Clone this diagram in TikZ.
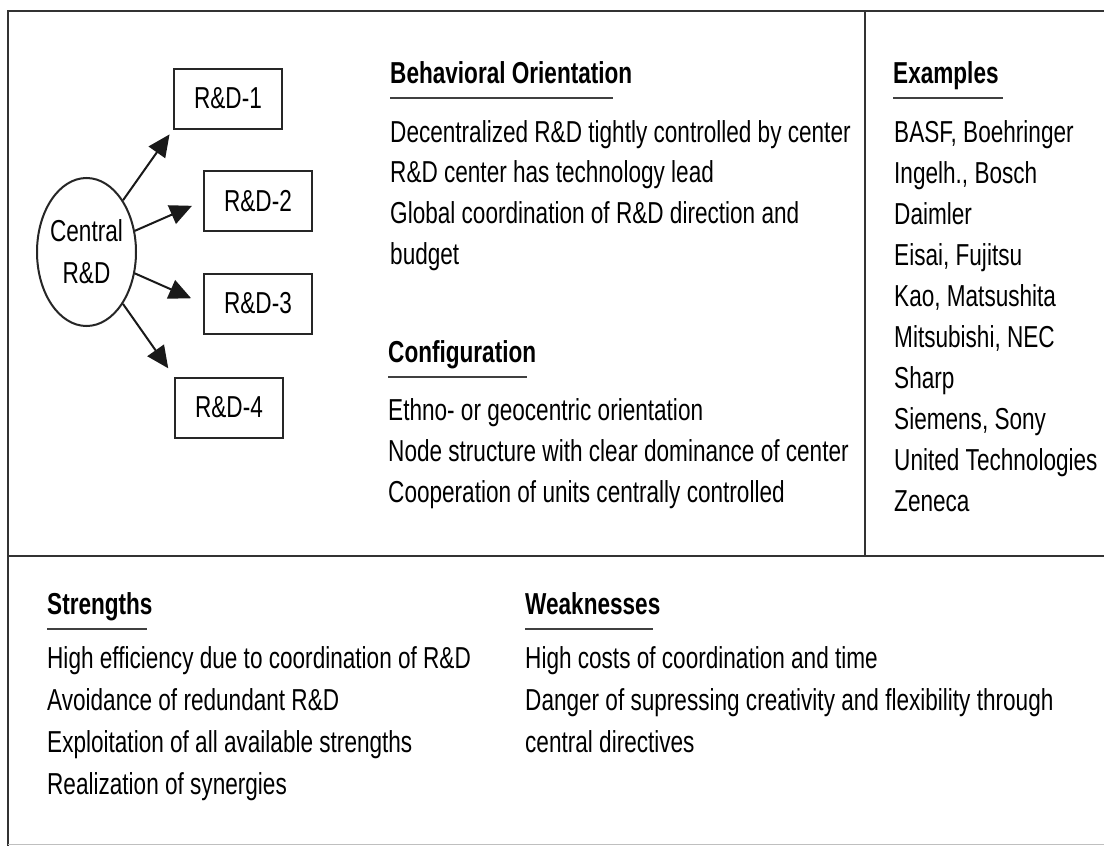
\documentclass[tikz,border=0pt]{standalone}
\usepackage{fontspec}
\setmainfont{Liberation Sans}[FakeStretch=0.745]
\usetikzlibrary{arrows.meta,shapes.geometric}

\begin{document}
\begin{tikzpicture}[x=1pt,y=-1pt,
  txt/.style={anchor=base west, inner sep=0pt, font=\fontsize{30.3}{41}\selectfont},
  head/.style={anchor=base west, inner sep=0pt, font=\fontsize{30.3}{41}\selectfont\bfseries},
  rule/.style={line width=2.4pt, black!75},
  frame/.style={line width=2pt, black!80},
  unit/.style={draw=black!85, line width=2pt, minimum width=108pt, minimum height=60pt,
               inner sep=0pt, font=\fontsize{30.3}{41}\selectfont},
  link/.style={line width=2pt, black!90, -{Triangle[length=22pt,width=20pt]}},
]
\useasboundingbox (0,0) rectangle (1104,846);
\fill[white] (0,0) rectangle (1104,846);

% outer frame and panel dividers
\draw[frame] (8,846) -- (8,11) -- (1104,11);
\draw[frame] (8,556) -- (1104,556);
\draw[frame] (865,11) -- (865,556);
\draw[line width=1pt, black!25] (8,844) -- (1104,844);

% central unit and its satellites
\node[ellipse, draw=black!85, line width=2pt, minimum width=99pt, minimum height=148pt,
      inner xsep=-8pt, inner ysep=0pt, align=center,
      font=\fontsize{30.3}{42}\selectfont] (c) at (86.5,252) {Central\\R\&D};
\node[unit] (b1) at (228,98.5) {R\&D-1};
\node[unit] (b2) at (258,201) {R\&D-2};
\node[unit] (b3) at (258,303.5) {R\&D-3};
\node[unit] (b4) at (229,407.5) {R\&D-4};

\draw[link, shorten >=6pt] (c) -- (b1.south west);
\draw[link, shorten >=12pt] (c) -- (b2.west);
\draw[link, shorten >=13pt] (c) -- (b3.west);
\draw[link, shorten >=10pt] (c) -- (b4.north west);

% behavioral orientation
\node[head] (hbo) at (390,83) {Behavioral Orientation};
\draw[rule] ([yshift=-15pt]hbo.base west) -- ++(223,0);
\foreach \t [count=\i] in {Decentralized R\&D tightly controlled by center,
    R\&D center has technology lead,
    Global coordination of R\&D direction and,
    budget}
  \node[txt] (bo\i) at (390,{142+40.7*(\i-1)}) {\t};

% configuration
\node[head] (hcf) at (388,362) {Configuration};
\draw[rule] ([yshift=-15pt]hcf.base west) -- ++(139,0);
\foreach \t [count=\i] in {Ethno- or geocentric orientation,
    Node structure with clear dominance of center,
    Cooperation of units centrally controlled}
  \node[txt] (cf\i) at (388,{420+41*(\i-1)}) {\t};

% examples
\node[head] (hex) at (893,83) {Examples};
\draw[rule] ([yshift=-15pt]hex.base west) -- ++(110,0);
\foreach \t [count=\i] in {{BASF, Boehringer}, {Ingelh., Bosch}, Daimler,
    {Eisai, Fujitsu}, {Kao, Matsushita}, {Mitsubishi, NEC}, Sharp,
    {Siemens, Sony}, United Technologies, Zeneca}
  \node[txt] (ex\i) at (894,{142+41.1*(\i-1)}) {\t};

% strengths
\node[head] (hst) at (47,614) {Strengths};
\draw[rule] ([yshift=-15pt]hst.base west) -- ++(100,0);
\foreach \t [count=\i] in {High efficiency due to coordination of R\&D,
    Avoidance of redundant R\&D,
    Exploitation of all available strengths,
    Realization of synergies}
  \node[txt] (st\i) at (47,{668+42.3*(\i-1)}) {\t};

% weaknesses
\node[head] (hwk) at (525,614) {Weaknesses};
\draw[rule] ([yshift=-15pt]hwk.base west) -- ++(128,0);
\foreach \t [count=\i] in {High costs of coordination and time,
    Danger of supressing creativity and flexibility through,
    central directives}
  \node[txt] (wk\i) at (525,{668+42.3*(\i-1)}) {\t};
\end{tikzpicture}
\end{document}
